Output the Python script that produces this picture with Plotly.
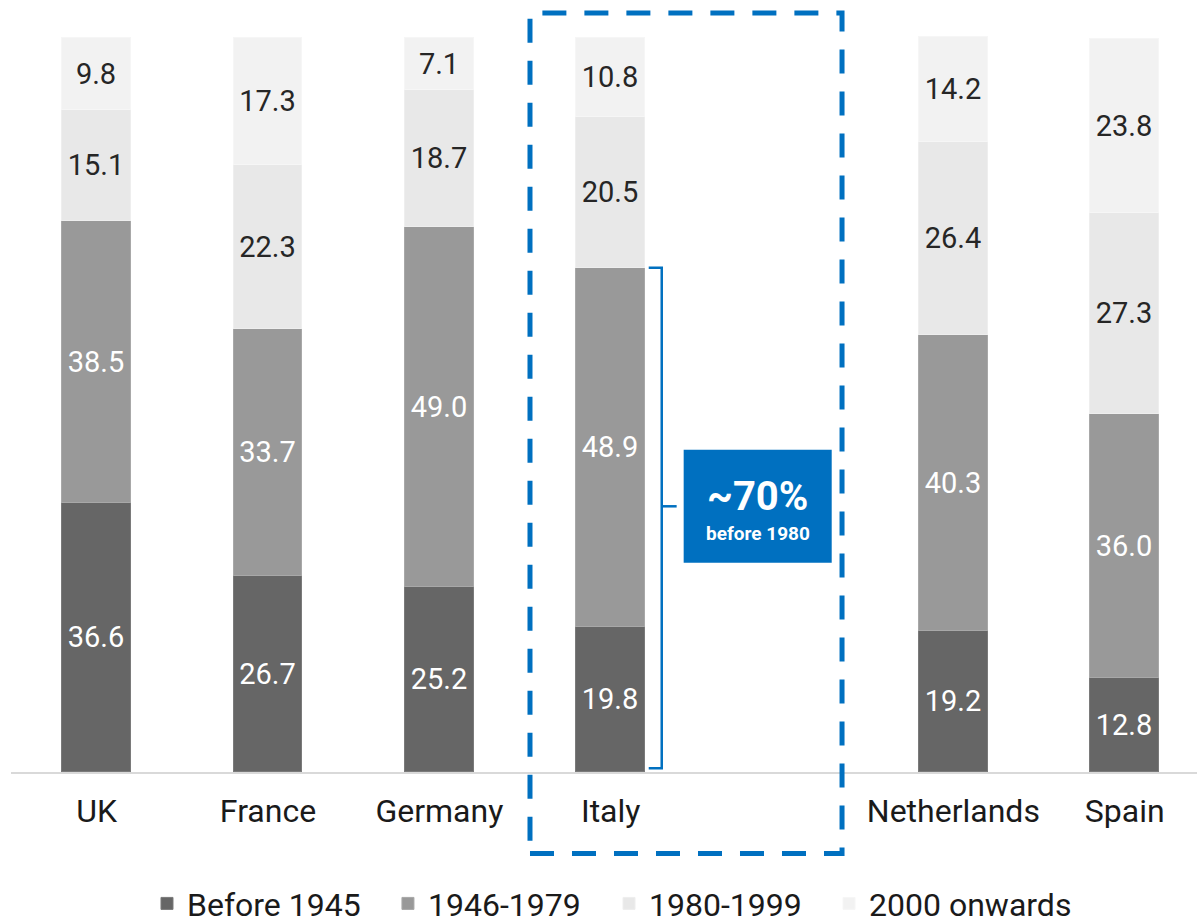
import plotly.graph_objects as go

# Share of dwelling stock by construction period (%)
countries = ["UK", "France", "Germany", "Italy", "Netherlands", "Spain"]
periods = ["Before 1945", "1946-1979", "1980-1999", "2000 onwards"]
before_1945 = [36.6, 26.7, 25.2, 19.8, 19.2, 12.8]
y1946_1979 = [38.5, 33.7, 49.0, 48.9, 40.3, 36.0]
y1980_1999 = [15.1, 22.3, 18.7, 20.5, 26.4, 27.3]
y2000_on = [9.8, 17.3, 7.1, 10.8, 14.2, 23.8]

series = [before_1945, y1946_1979, y1980_1999, y2000_on]
fills = ["#666666", "#999999", "#e8e8e8", "#f2f2f2"]
edges = ["#7a7a7a", "#a8a8a8", "#eeeeee", "#f6f6f6"]
label_colors = ["white", "white", "#262626", "#262626"]

highlight = "Italy"
BLUE = "#0070c0"
FONT = "Roboto"

# slot positions: leave an empty slot after the highlighted country for the callout
hi_idx = countries.index(highlight)
xpos = [i + (1 if i > hi_idx else 0) for i in range(len(countries))]

fig = go.Figure()
legend_x = [0.1228, 0.3241, 0.5088, 0.6926]
for k, (name, vals) in enumerate(zip(periods, series)):
    lname = "legend" if k == 0 else f"legend{k + 1}"
    fig.add_trace(go.Bar(
        x=xpos, y=vals, name=name, width=0.4,
        marker=dict(color=fills[k], line=dict(color=edges[k], width=1)),
        text=[f"{v:.1f}" for v in vals], textposition="inside",
        insidetextanchor="middle", textangle=0,
        textfont=dict(family=FONT, size=29, color=label_colors[k]),
        legend=lname, showlegend=True, hoverinfo="skip",
    ))

# bracket spanning the pre-1980 share of the highlighted country
x0 = xpos[hi_idx]
top = before_1945[hi_idx] + y1946_1979[hi_idx]
bottom = 0.5
box_y0, box_y1 = 28.5, 43.9
tip_y = (box_y0 + box_y1) / 2
bx_hook, bx_line, bx_tip = x0 + 0.222, x0 + 0.298, x0 + 0.385
fig.add_shape(type="path",
              path=(f"M {bx_hook},{top} L {bx_line},{top} L {bx_line},{bottom} "
                    f"L {bx_hook},{bottom}"),
              xref="x", yref="y", line=dict(color=BLUE, width=2.5))
fig.add_shape(type="line", x0=bx_line, x1=bx_tip, y0=tip_y, y1=tip_y,
              xref="x", yref="y", line=dict(color=BLUE, width=2.5))

# callout box
fig.add_shape(type="rect", x0=x0 + 0.426, x1=x0 + 1.29, y0=box_y0, y1=box_y1,
              xref="x", yref="y", fillcolor=BLUE, line=dict(width=0))
cx = x0 + 0.858
fig.add_annotation(x=cx, y=37.5, xref="x", yref="y", text="<b>~70%</b>",
                   showarrow=False, font=dict(family=FONT, size=40, color="white"))
fig.add_annotation(x=cx, y=32.5, xref="x", yref="y", text="<b>before 1980</b>",
                   showarrow=False, font=dict(family=FONT, size=19, color="white"))

# dashed frame around the highlighted country and its callout
fig.add_shape(type="rect", x0=0.4376, x1=0.7007, y0=-0.1055, y1=0.983,
              xref="paper", yref="paper",
              line=dict(color=BLUE, width=5, dash="24px,18px"))

legend_common = dict(orientation="h", xref="container", yref="container",
                     yanchor="middle", y=0.021, xanchor="left",
                     font=dict(family=FONT, size=32, color="#1a1a1a"),
                     bgcolor="rgba(0,0,0,0)", itemclick=False, itemdoubleclick=False)

fig.update_layout(
    width=1197, height=923,
    margin=dict(l=11, r=0, t=0, b=151),
    paper_bgcolor="white", plot_bgcolor="white",
    barmode="stack", bargap=0, showlegend=True,
    font=dict(family=FONT),
    legend=dict(x=legend_x[0], **legend_common),
    legend2=dict(x=legend_x[1], **legend_common),
    legend3=dict(x=legend_x[2], **legend_common),
    legend4=dict(x=legend_x[3], **legend_common),
    xaxis=dict(range=[-0.5, 6.422], tickvals=xpos, ticktext=countries,
               tickfont=dict(family=FONT, size=32, color="#1a1a1a"),
               showgrid=False, zeroline=False, showline=True,
               linecolor="#d9d9d9", linewidth=2,
               ticks="outside", ticklen=10, tickcolor="rgba(0,0,0,0)"),
    yaxis=dict(range=[0, 105.18], visible=False, showgrid=False, zeroline=False),
)

fig.write_html("out.html")
